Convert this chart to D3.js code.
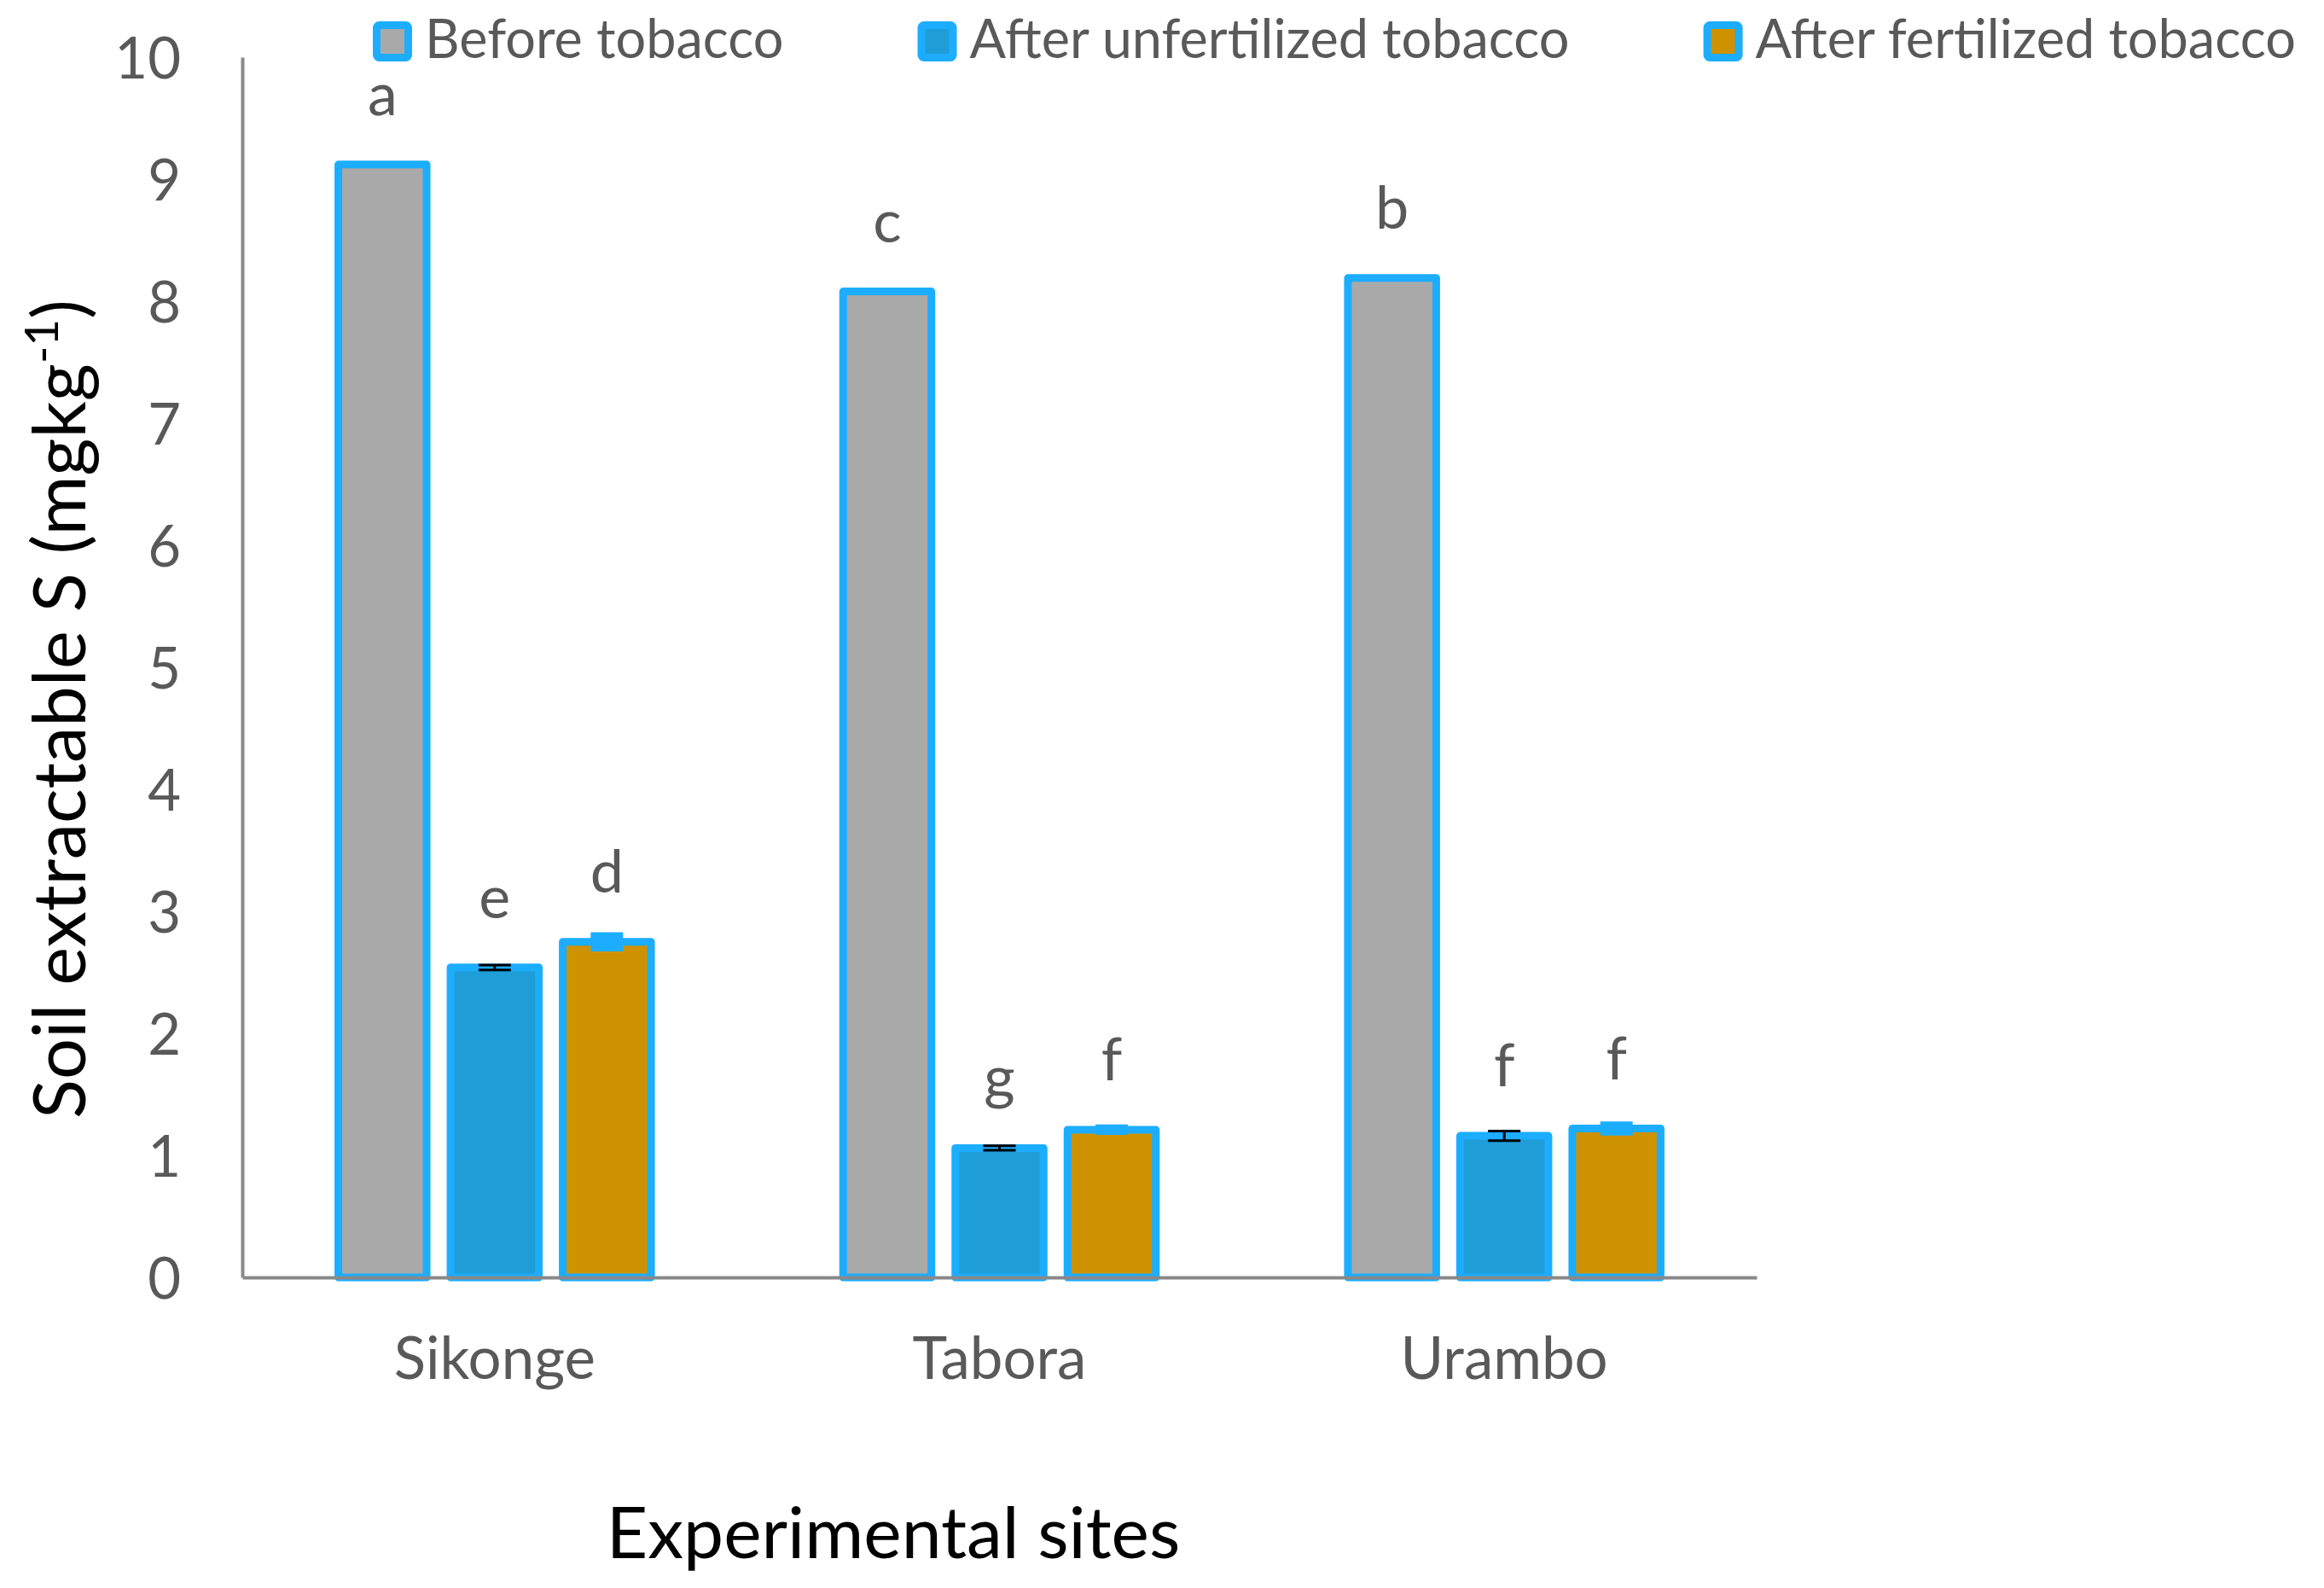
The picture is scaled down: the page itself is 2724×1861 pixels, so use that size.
<!doctype html>
<html lang="en">
<head>
    <meta charset="UTF-8">
    <title>Soil extractable S</title>
    <script src="https://d3js.org/d3.v7.min.js"></script>
    <style>
        body { margin: 0; background: #fff; }
        text { font-family: Lato, "Open Sans", sans-serif; }
    </style>
</head>
<body>
<div id="chart-area"></div>

<script>

// data
const sites = ['Sikonge', 'Tabora', 'Urambo'];
const seriesNames = ['Before tobacco', 'After unfertilized tobacco', 'After fertilized tobacco'];
const beforeVals = [9.12, 8.08, 8.19];
const unfertVals = [2.54, 1.06, 1.16];
const fertVals = [2.75, 1.21, 1.22];
const beforeErr = [0, 0, 0];
const unfertErr = [0.02, 0.018, 0.04];
const fertErr = [0.05, 0.015, 0.03];
const beforeLetters = ['a', 'c', 'b'];
const unfertLetters = ['e', 'g', 'f'];
const fertLetters = ['d', 'f', 'f'];
const yTicks = [0, 1, 2, 3, 4, 5, 6, 7, 8, 9, 10];

const fills = ['#a9a9a9', '#1e9dd7', '#ce9200'];
const edge = '#1cadff';
const errColor = ['none', '#000000', edge];
const errWidth = [0, 3, 8];

const margin = { top: 67, right: 665, bottom: 364, left: 284 };
const W = 2724, H = 1861;
const chartW = W - margin.left - margin.right;
const chartH = H - margin.top - margin.bottom;

const svg = d3.select('#chart-area')
    .append('svg')
    .attr('width', W)
    .attr('height', H)
    .style('display', 'block');

svg.append('rect').attr('width', W).attr('height', H).attr('fill', '#fff');

const g = svg.append('g')
    .attr('transform', `translate(${margin.left},${margin.top})`);

const x0 = d3.scaleBand().domain(sites).range([0, chartW]);
const groupW = 3 * 131.5;
const x1 = d3.scaleBand()
    .domain(seriesNames)
    .range([(x0.bandwidth() - groupW) / 2, (x0.bandwidth() + groupW) / 2])
    .paddingInner(0.213)
    .paddingOuter(0.1065);
const y = d3.scaleLinear().domain([0, 10]).range([chartH, 0]);

const vals = [beforeVals, unfertVals, fertVals];
const errs = [beforeErr, unfertErr, fertErr];
const letters = [beforeLetters, unfertLetters, fertLetters];

const rows = [];
sites.forEach((s, i) => {
    seriesNames.forEach((n, k) => {
        rows.push({ site: s, series: n, k: k, v: vals[k][i], e: errs[k][i], l: letters[k][i] });
    });
});

// bars
g.selectAll('rect.bar').data(rows).enter().append('rect')
    .attr('class', 'bar')
    .attr('x', d => x0(d.site) + x1(d.series))
    .attr('y', d => y(d.v))
    .attr('width', x1.bandwidth())
    .attr('height', d => y(0) - y(d.v))
    .attr('fill', d => fills[d.k])
    .attr('stroke', edge)
    .attr('stroke-width', 9)
    .attr('stroke-linejoin', 'round');

// error bars
const capW = 38;
const eb = g.selectAll('g.err').data(rows.filter(d => d.e > 0)).enter().append('g')
    .attr('class', 'err')
    .attr('stroke', d => errColor[d.k])
    .attr('stroke-width', d => errWidth[d.k])
    .attr('transform', d => `translate(${x0(d.site) + x1(d.series) + x1.bandwidth() / 2},0)`);
eb.append('line').attr('x1', 0).attr('x2', 0)
    .attr('y1', d => y(d.v + d.e)).attr('y2', d => y(d.v - d.e));
eb.append('line').attr('x1', -capW / 2).attr('x2', capW / 2)
    .attr('y1', d => y(d.v + d.e)).attr('y2', d => y(d.v + d.e));
eb.append('line').attr('x1', -capW / 2).attr('x2', capW / 2)
    .attr('y1', d => y(d.v - d.e)).attr('y2', d => y(d.v - d.e));

// significance letters
g.selectAll('text.letter').data(rows).enter().append('text')
    .attr('class', 'letter')
    .attr('x', d => x0(d.site) + x1(d.series) + x1.bandwidth() / 2)
    .attr('y', d => y(d.v) - 58)
    .attr('text-anchor', 'middle')
    .attr('font-size', '70px')
    .attr('fill', '#595959')
    .text(d => d.l);

// axes
const yAxisCall = d3.axisLeft(y).tickValues(yTicks).tickSize(0).tickSizeOuter(0).tickPadding(72);
const yAxisG = g.append('g').attr('class', 'y-axis').call(yAxisCall);
yAxisG.select('.domain').attr('stroke', '#898989').attr('stroke-width', 4);
yAxisG.selectAll('text')
    .attr('font-size', '67px')
    .attr('fill', '#595959')
    .attr('dy', '0.36em');

const xAxisCall = d3.axisBottom(x0).tickSize(0).tickSizeOuter(0);
const xAxisG = g.append('g').attr('class', 'x-axis')
    .attr('transform', `translate(0,${chartH})`)
    .call(xAxisCall);
xAxisG.select('.domain').attr('stroke', '#898989').attr('stroke-width', 4);
xAxisG.selectAll('text')
    .attr('y', 119)
    .attr('dy', 0)
    .attr('font-size', '69px')
    .attr('fill', '#595959');

// axis titles
svg.append('text')
    .attr('x', 1047)
    .attr('y', 1826)
    .attr('text-anchor', 'middle')
    .attr('font-size', '84px')
    .attr('fill', '#000')
    .text('Experimental sites');

const yLabel = svg.append('text')
    .attr('transform', 'translate(100,831) rotate(-90)')
    .attr('text-anchor', 'middle')
    .attr('font-size', '85px')
    .attr('fill', '#000');
yLabel.append('tspan').text('Soil extractable S (mgkg');
yLabel.append('tspan').attr('font-size', '55px').attr('dy', -32).text('-1');
yLabel.append('tspan').attr('dy', 32).text(')');

// legend
const legend = svg.append('g').attr('class', 'legend');
let lx = 437;
seriesNames.forEach((n, k) => {
    const item = legend.append('g').attr('transform', `translate(${lx},25)`);
    item.append('rect')
        .attr('x', 4.5).attr('y', 4.5)
        .attr('width', 37).attr('height', 38)
        .attr('rx', 3)
        .attr('fill', fills[k])
        .attr('stroke', edge)
        .attr('stroke-width', 9);
    const t = item.append('text')
        .attr('x', 61)
        .attr('y', 43)
        .attr('font-size', '63px')
        .attr('fill', '#595959')
        .text(n);
    lx += 61 + t.node().getComputedTextLength() + 157;
});

</script>

</body>
</html>
